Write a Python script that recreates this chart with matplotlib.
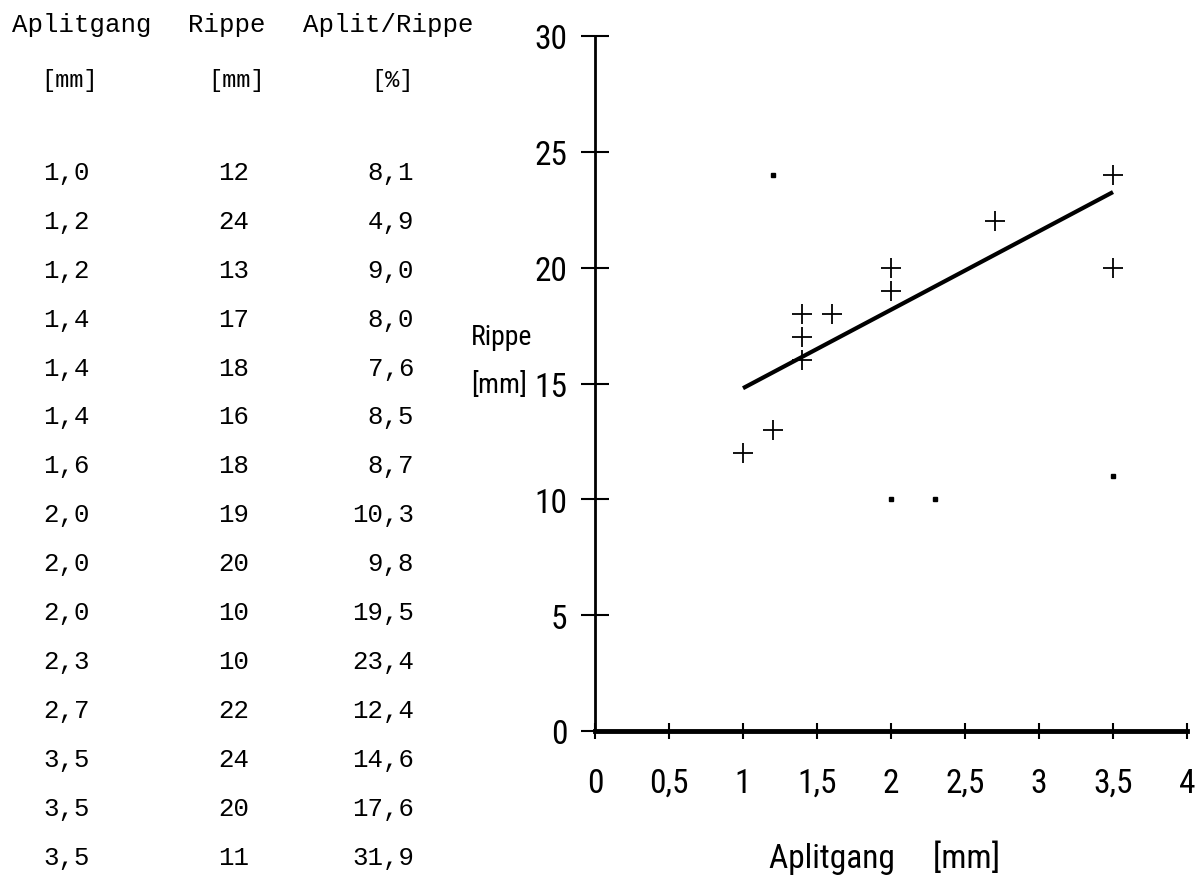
import numpy as np
import matplotlib.pyplot as plt
from matplotlib import font_manager

# values from the table (Aplitgang [mm], Rippe [mm], Aplit/Rippe [%])
aplitgang = [1.0, 1.2, 1.2, 1.4, 1.4, 1.4, 1.6, 2.0, 2.0, 2.0, 2.3, 2.7, 3.5, 3.5, 3.5]
rippe = [12, 24, 13, 17, 18, 16, 18, 19, 20, 10, 10, 22, 24, 20, 11]
verhaeltnis = [8.1, 4.9, 9.0, 8.0, 7.6, 8.5, 8.7, 10.3, 9.8, 19.5, 23.4, 12.4, 14.6, 17.6, 31.9]
# points left out of the regression (printed only as dots)
ausreisser = [False, True, False, False, False, False, False, False, False,
              True, True, False, False, False, True]

x_ticks = [0, 0.5, 1, 1.5, 2, 2.5, 3, 3.5, 4]
x_ticklabels = ["0", "0,5", "1", "1,5", "2", "2,5", "3", "3,5", "4"]
y_ticks = [0, 5, 10, 15, 20, 25, 30]

W, H = 1198, 878
TABLE_FONT = ["Liberation Mono", "DejaVu Sans Mono"]

# narrow font for the plot if there is one, else a mono font a bit smaller
PLOT_FONT, PLOT_SIZE, LABEL_SIZE = ["DejaVu Sans Mono"], 18, 17
for fam in ["Roboto Condensed", "Liberation Sans Narrow"]:
    try:
        font_manager.findfont(fam, fallback_to_default=False)
        PLOT_FONT, PLOT_SIZE, LABEL_SIZE = [fam, "DejaVu Sans"], 24, 20
        break
    except ValueError:
        pass


def komma(v, nd=1):
    return f"{v:.{nd}f}".replace(".", ",")


def px(x, y):
    # pixel position -> figure fraction
    return x / W, 1 - y / H


fig = plt.figure(figsize=(W / 100, H / 100), dpi=100)

# --- table on the left ---
for xp, txt in [(12, "Aplitgang"), (188, "Rippe"), (303, "Aplit/Rippe")]:
    fig.text(*px(xp, 25), txt, family=TABLE_FONT, fontsize=18.5, va="center", ha="left")
for xp, txt in [(70, "[mm]"), (237, "[mm]"), (392, "[%]")]:
    fig.text(*px(xp, 80), txt, family=TABLE_FONT, fontsize=17, va="center", ha="center")

row0, dy = 173, 48.9
for i, (a, r, p) in enumerate(zip(aplitgang, rippe, verhaeltnis)):
    yp = row0 + i * dy
    fig.text(*px(43, yp), komma(a), family=TABLE_FONT, fontsize=18.5, va="center", ha="left")
    fig.text(*px(249, yp), str(r), family=TABLE_FONT, fontsize=18.5, va="center", ha="right")
    fig.text(*px(414, yp), komma(p), family=TABLE_FONT, fontsize=18.5, va="center", ha="right")

# --- scatter plot on the right ---
ax = fig.add_axes([595 / W, 1 - 732 / H, (1187 - 595) / W, (732 - 37) / H])
ax.set_xlim(0, 4)
ax.set_ylim(0, 30)
for s in ["top", "right"]:
    ax.spines[s].set_visible(False)
ax.spines["left"].set_linewidth(2)
ax.spines["bottom"].set_linewidth(3.5)

xa = np.array(aplitgang)
ya = np.array(rippe)
out = np.array(ausreisser)

ax.plot(xa[~out], ya[~out], linestyle="none", marker="+", markersize=15,
        markeredgewidth=1.3, color="black", clip_on=False)
ax.plot(xa[out], ya[out], linestyle="none", marker="s", markersize=3.5,
        color="black", clip_on=False)

k, d = np.polyfit(xa[~out], ya[~out], 1)
xs = np.array([xa[~out].min(), xa[~out].max()])
ax.plot(xs, k * xs + d, color="black", linewidth=3, solid_capstyle="butt")

ax.set_xticks(x_ticks)
ax.set_xticklabels(x_ticklabels)
ax.set_yticks(y_ticks)
ax.tick_params(axis="y", direction="inout", length=20, width=1.5, pad=10)
ax.tick_params(axis="x", direction="inout", length=12, width=1.5, pad=20)
for lab in ax.get_xticklabels() + ax.get_yticklabels():
    lab.set_family(PLOT_FONT)
    lab.set_fontsize(PLOT_SIZE)

fig.text(*px(471, 338), "Rippe", family=PLOT_FONT, fontsize=LABEL_SIZE, va="center", ha="left")
fig.text(*px(471, 386), "[mm]", family=PLOT_FONT, fontsize=LABEL_SIZE, va="center", ha="left")
fig.text(*px(885, 858), "Aplitgang     [mm]", family=PLOT_FONT, fontsize=PLOT_SIZE,
         va="center", ha="center")

fig.savefig("out.png", dpi=100)
